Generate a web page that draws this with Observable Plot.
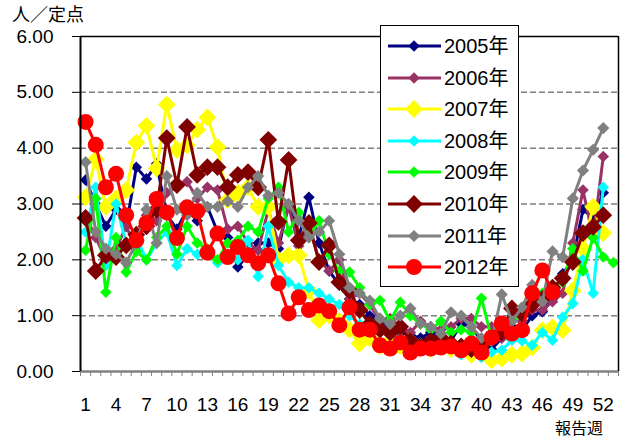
<!DOCTYPE html>
<html>
<head>
<meta charset="utf-8">
<script src="https://cdn.jsdelivr.net/npm/d3@7"></script>
<script src="https://cdn.jsdelivr.net/npm/@observablehq/plot@0.6"></script>
<style>
  html, body { margin: 0; padding: 0; background: #fff; }
  #wrap { position: relative; width: 628px; height: 441px; font-family: "Liberation Sans", Arial, sans-serif; }
  #ytitle { position: absolute; left: 12px; top: 4px; font-size: 18px; font-family: "Noto Sans CJK JP", sans-serif; line-height: 1; }
  #xtitle { position: absolute; left: 555px; top: 418px; font-size: 16px; font-family: "Noto Sans CJK JP", sans-serif; line-height: 18px; height: 20px; white-space: nowrap; }
  #legend { position: absolute; left: 380px; top: 25px; width: 137px; height: 260px; border: 1.5px solid #000; background: #fff; }
  .lg { position: absolute; left: 0; height: 26px; width: 137px; }
  .lg svg { position: absolute; left: 5px; top: 0; }
  .lg span { position: absolute; left: 63px; top: 2px; font-size: 20px; line-height: 22px; font-family: "Liberation Sans", "Noto Sans CJK JP", sans-serif; }
</style>
</head>
<body>
<div id="wrap">
  <div id="chart"></div>
  <div id="ytitle">人／定点</div>
  <div id="xtitle">報告週</div>
  <div id="legend"></div>
</div>
<script>
// ---- data (人/定点, by report week) ----
const yearNames = ["2005年","2006年","2007年","2008年","2009年","2010年","2011年","2012年"];
const yearColors = ["#000080","#993366","#FFFF00","#00FFFF","#00FF00","#800000","#808080","#FF0000"];
const xTickLabels = [1,4,7,10,13,16,19,22,25,28,31,34,37,40,43,46,49,52];
const yTickValues = [0,1,2,3,4,5,6];

const v2005 = [3.43,3.0,2.6,2.9,2.6,3.66,3.45,3.72,2.8,2.55,2.9,2.7,2.95,2.5,2.4,1.87,2.1,2.3,2.3,2.2,3.0,2.4,3.12,2.3,1.8,1.55,1.3,1.2,1.0,0.9,0.75,0.7,0.65,0.6,0.7,0.6,0.55,0.85,0.8,0.55,0.4,0.6,0.8,0.75,1.0,1.07,1.3,1.75,2.0,2.9,2.75,3.2];
const v2006 = [2.8,2.4,2.0,2.2,2.6,2.2,2.8,2.7,3.2,3.3,3.4,3.1,3.3,3.25,2.55,2.6,2.3,2.17,2.9,2.3,2.95,2.25,2.6,2.0,1.8,2.0,1.3,1.4,1.2,0.9,0.95,0.8,0.7,0.9,0.8,0.75,0.8,0.95,0.95,0.8,0.8,0.6,0.7,0.9,1.1,1.1,1.25,1.4,2.3,3.25,2.4,3.85];
const v2007 = [3.12,3.8,2.95,3.1,3.25,4.1,4.4,3.64,4.78,3.97,4.05,4.33,4.55,4.02,3.07,3.2,3.3,2.95,2.95,2.0,2.08,2.08,1.45,0.92,1.0,0.9,0.75,0.5,0.6,0.45,0.55,0.45,0.55,0.45,0.4,0.5,0.4,0.4,0.3,0.35,0.2,0.23,0.3,0.32,0.43,0.74,0.79,0.74,1.45,2.2,2.95,2.48];
const v2008 = [2.5,3.3,1.9,3.0,2.3,2.4,2.0,2.3,2.5,1.9,2.2,2.1,2.1,1.95,2.1,2.0,2.35,1.7,2.6,1.9,1.6,1.5,1.5,1.4,1.3,1.2,1.0,0.85,0.8,0.75,0.65,0.6,0.55,0.5,0.45,0.4,0.5,0.3,0.35,0.25,0.35,0.38,0.56,0.55,0.47,0.7,0.56,0.97,1.22,2.0,1.4,3.3];
const v2009 = [2.17,3.1,1.42,2.4,1.78,2.15,2.0,2.4,2.6,2.1,2.6,2.3,2.2,2.0,2.3,2.35,2.6,2.5,3.1,3.3,2.5,2.85,2.4,2.7,2.1,1.8,1.78,1.5,1.2,1.27,0.9,1.24,1.0,0.85,0.75,0.9,0.7,0.75,0.7,1.31,0.6,0.7,0.9,1.0,1.2,1.4,1.45,1.6,2.2,1.8,2.4,2.05,1.95];
const v2010 = [2.75,1.8,2.08,2.05,2.26,2.45,2.6,2.9,4.18,3.34,4.38,3.52,3.66,3.66,3.3,3.52,3.57,3.3,4.15,2.68,3.79,2.35,2.66,1.96,2.26,1.6,1.45,1.1,0.85,0.75,0.7,0.8,0.55,0.45,0.55,0.6,0.5,0.45,0.4,0.45,0.6,0.7,1.13,1.04,1.2,1.3,1.5,1.67,1.96,2.48,2.59,2.8];
const v2011 = [3.75,2.5,2.2,2.1,1.95,2.3,2.9,2.3,3.5,2.9,2.8,3.2,2.95,2.95,3.05,2.95,3.3,3.5,3.15,3.2,3.0,2.7,2.4,2.5,2.7,2.1,1.5,1.4,1.27,0.95,0.85,1.0,1.13,0.86,0.8,0.68,1.06,1.0,0.8,0.6,0.55,1.38,0.9,1.15,1.55,1.25,2.15,2.05,3.1,3.6,3.97,4.36];
const v2012 = [4.47,4.06,3.30,3.54,2.80,2.35,2.66,3.09,2.85,2.39,2.94,2.87,2.13,2.47,2.05,2.23,2.08,1.94,2.08,1.58,1.04,1.33,1.10,1.18,1.08,0.83,1.15,0.75,0.75,0.47,0.41,0.52,0.34,0.41,0.41,0.43,0.45,0.38,0.5,0.34,0.61,0.86,0.68,0.74,1.40,1.81,1.42];

const allValues = [v2005,v2006,v2007,v2008,v2009,v2010,v2011,v2012];
// marker style per series (style, not data)
const markerSymbol = ["diamond2","diamond2","diamond2","diamond2","diamond2","diamond2","diamond2","circle"];
const markerR = [5.2,5.2,8,5.2,5.2,8,5.5,8];

const marks = [
  Plot.ruleY([1,2,3,4,5], {stroke: "#808080", strokeWidth: 1.5, strokeDasharray: "6,3"}),
];
allValues.forEach((vals, i) => {
  const rows = vals.map((v, j) => ({week: j + 1, value: v}));
  marks.push(Plot.line(rows, {x: "week", y: "value", stroke: yearColors[i], strokeWidth: 3}));
  marks.push(Plot.dot(rows, {x: "week", y: "value", symbol: markerSymbol[i], r: markerR[i], fill: yearColors[i], stroke: "none"}));
});
marks.push(
  Plot.ruleY([6], {stroke: "#000", strokeWidth: 1.5}),
  Plot.ruleX([53.5], {stroke: "#000", strokeWidth: 1.5}),
  Plot.ruleY([0], {stroke: "#808080", strokeWidth: 2.5}),
  Plot.ruleX([0.5], {stroke: "#000", strokeWidth: 2}),
  Plot.axisY({ticks: yTickValues, tickFormat: d => d.toFixed(2), tickSize: 8, tickPadding: 19, fontSize: 19, label: null, stroke: "#000"}),
  Plot.axisX({ticks: d3.range(0.5, 54, 1), tickFormat: () => "", tickSize: 5, stroke: "#808080", label: null}),
  Plot.axisX({ticks: xTickLabels, tickFormat: d => String(d), tickSize: 0, tickPadding: 26, fontSize: 19, label: null})
);

const chart = Plot.plot({
  width: 628,
  height: 441,
  marginLeft: 80,
  marginRight: 10,
  marginTop: 36,
  marginBottom: 70,
  style: {fontFamily: "Liberation Sans, Arial, sans-serif", background: "#fff", color: "#000", overflow: "visible"},
  x: {type: "linear", domain: [0.5, 53.5]},
  y: {type: "linear", domain: [0, 6]},
  marks
});
document.getElementById("chart").appendChild(chart);

// legend
const legend = document.getElementById("legend");
yearNames.forEach((name, i) => {
  const row = document.createElement("div");
  row.className = "lg";
  row.style.top = (7 + i * 31.6) + "px";
  const isCircle = markerSymbol[i] === "circle";
  const r = markerR[i];
  const h = r * 1.11;
  const m = isCircle
    ? `<circle cx="28" cy="13" r="${r}" fill="${yearColors[i]}"/>`
    : `<path d="M28,${13 - h}L${28 + h},13L28,${13 + h}L${28 - h},13Z" fill="${yearColors[i]}"/>`;
  row.innerHTML = `<svg width="58" height="26"><line x1="2" y1="13" x2="55" y2="13" stroke="${yearColors[i]}" stroke-width="3"/>${m}</svg><span>${name}</span>`;
  legend.appendChild(row);
});
</script>
</body>
</html>
